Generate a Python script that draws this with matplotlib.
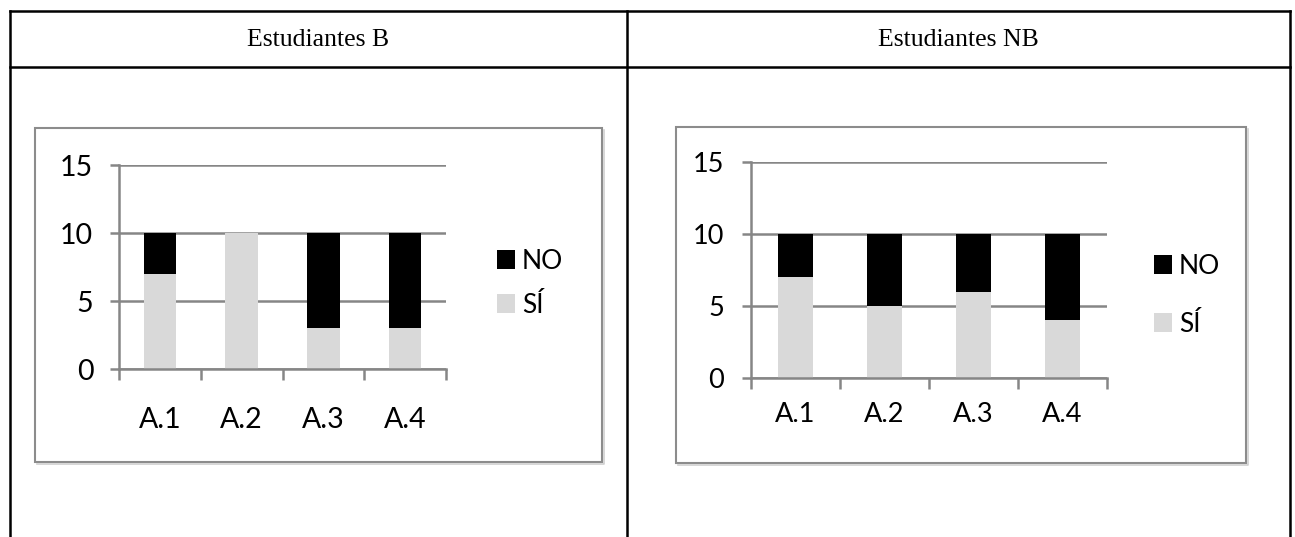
import numpy as np
import matplotlib.pyplot as plt
from matplotlib.patches import Rectangle

categorias = ['A.1', 'A.2', 'A.3', 'A.4']
si_b = [7, 10, 3, 3]
no_b = [3, 0, 7, 7]
si_nb = [7, 5, 6, 4]
no_nb = [3, 5, 4, 6]
titulos = ['Estudiantes B', 'Estudiantes NB']

W, H = 1295, 537
GRIS = '#868686'
plt.rcParams['font.family'] = ['Lato', 'DejaVu Sans']

fig = plt.figure(figsize=(W / 100, H / 100), dpi=100)

# fondo en pixeles: tabla y marcos de los graficos
bg = fig.add_axes([0, 0, 1, 1])
bg.set_xlim(0, W)
bg.set_ylim(H, 0)
bg.axis('off')

lw_tabla = 1.8
bg.plot([10, 1290], [11, 11], color='black', lw=lw_tabla)
bg.plot([10, 1290], [67, 67], color='black', lw=lw_tabla)
for xv in (10, 627, 1290):
    bg.plot([xv, xv], [11, H], color='black', lw=lw_tabla)

bg.text(318, 40, titulos[0], family='Liberation Serif', fontsize=18.5,
        ha='center', va='center')
bg.text(958, 40, titulos[1], family='Liberation Serif', fontsize=18.5,
        ha='center', va='center')

for (x0, y0, x1, y1) in [(35, 128, 602, 462), (676, 127, 1246, 463)]:
    # sombra suave
    bg.plot([x0 + 2, x1 + 2, x1 + 2], [y1 + 2, y1 + 2, y0 + 2], color='#d0d0d0', lw=1.2)
    bg.add_patch(Rectangle((x0, y0), x1 - x0, y1 - y0, fill=False,
                           edgecolor='#8c8c8c', lw=1.5))


def grafico(px0, px1, py_top, py_bot, si, no, tam, pad_x, pad_y, leg_x, leg_y, leg_sp):
    ax = fig.add_axes([px0 / W, (H - py_bot) / H, (px1 - px0) / W, (py_bot - py_top) / H])
    ax.set_facecolor('none')
    x = np.arange(len(categorias))
    b_no = ax.bar(x, no, 0.4, bottom=si, color='black', label='NO', zorder=3)
    b_si = ax.bar(x, si, 0.4, color='#d9d9d9', label='SÍ', zorder=3)
    ax.set_xlim(-0.5, len(categorias) - 0.5)
    ax.set_ylim(0, 15)
    ax.set_yticks([0, 5, 10, 15])
    ax.yaxis.grid(True, color=GRIS, lw=1.8, zorder=1)
    ax.set_axisbelow(True)
    for s in ('top', 'right'):
        ax.spines[s].set_visible(False)
    for s in ('left', 'bottom'):
        ax.spines[s].set_color(GRIS)
        ax.spines[s].set_linewidth(1.8)
        ax.spines[s].set_zorder(4)
    ax.set_xticks(x)
    ax.set_xticklabels(categorias)
    ax.set_xticks(np.arange(-0.5, len(categorias)), minor=True)
    ax.tick_params(axis='x', which='major', length=0, pad=pad_x, labelsize=tam)
    ax.tick_params(axis='x', which='minor', length=8, width=1.8, color=GRIS)
    ax.tick_params(axis='y', length=6.5, width=1.8, color=GRIS, pad=pad_y, labelsize=tam)
    ax.legend(handles=[b_no, b_si], loc='center left', bbox_to_anchor=(leg_x, leg_y),
              frameon=False, fontsize=19, handlelength=0.7, handleheight=0.7,
              handletextpad=0.25, labelspacing=leg_sp, borderpad=0, borderaxespad=0)
    return ax


grafico(119, 446, 165, 369, si_b, no_b, 20.5, 27, 12, 1.156, 0.42, 0.72)
grafico(751, 1107, 162, 378, si_nb, no_nb, 19.5, 17, 13, 1.132, 0.384, 1.25)

fig.savefig('out.png', dpi=100)
